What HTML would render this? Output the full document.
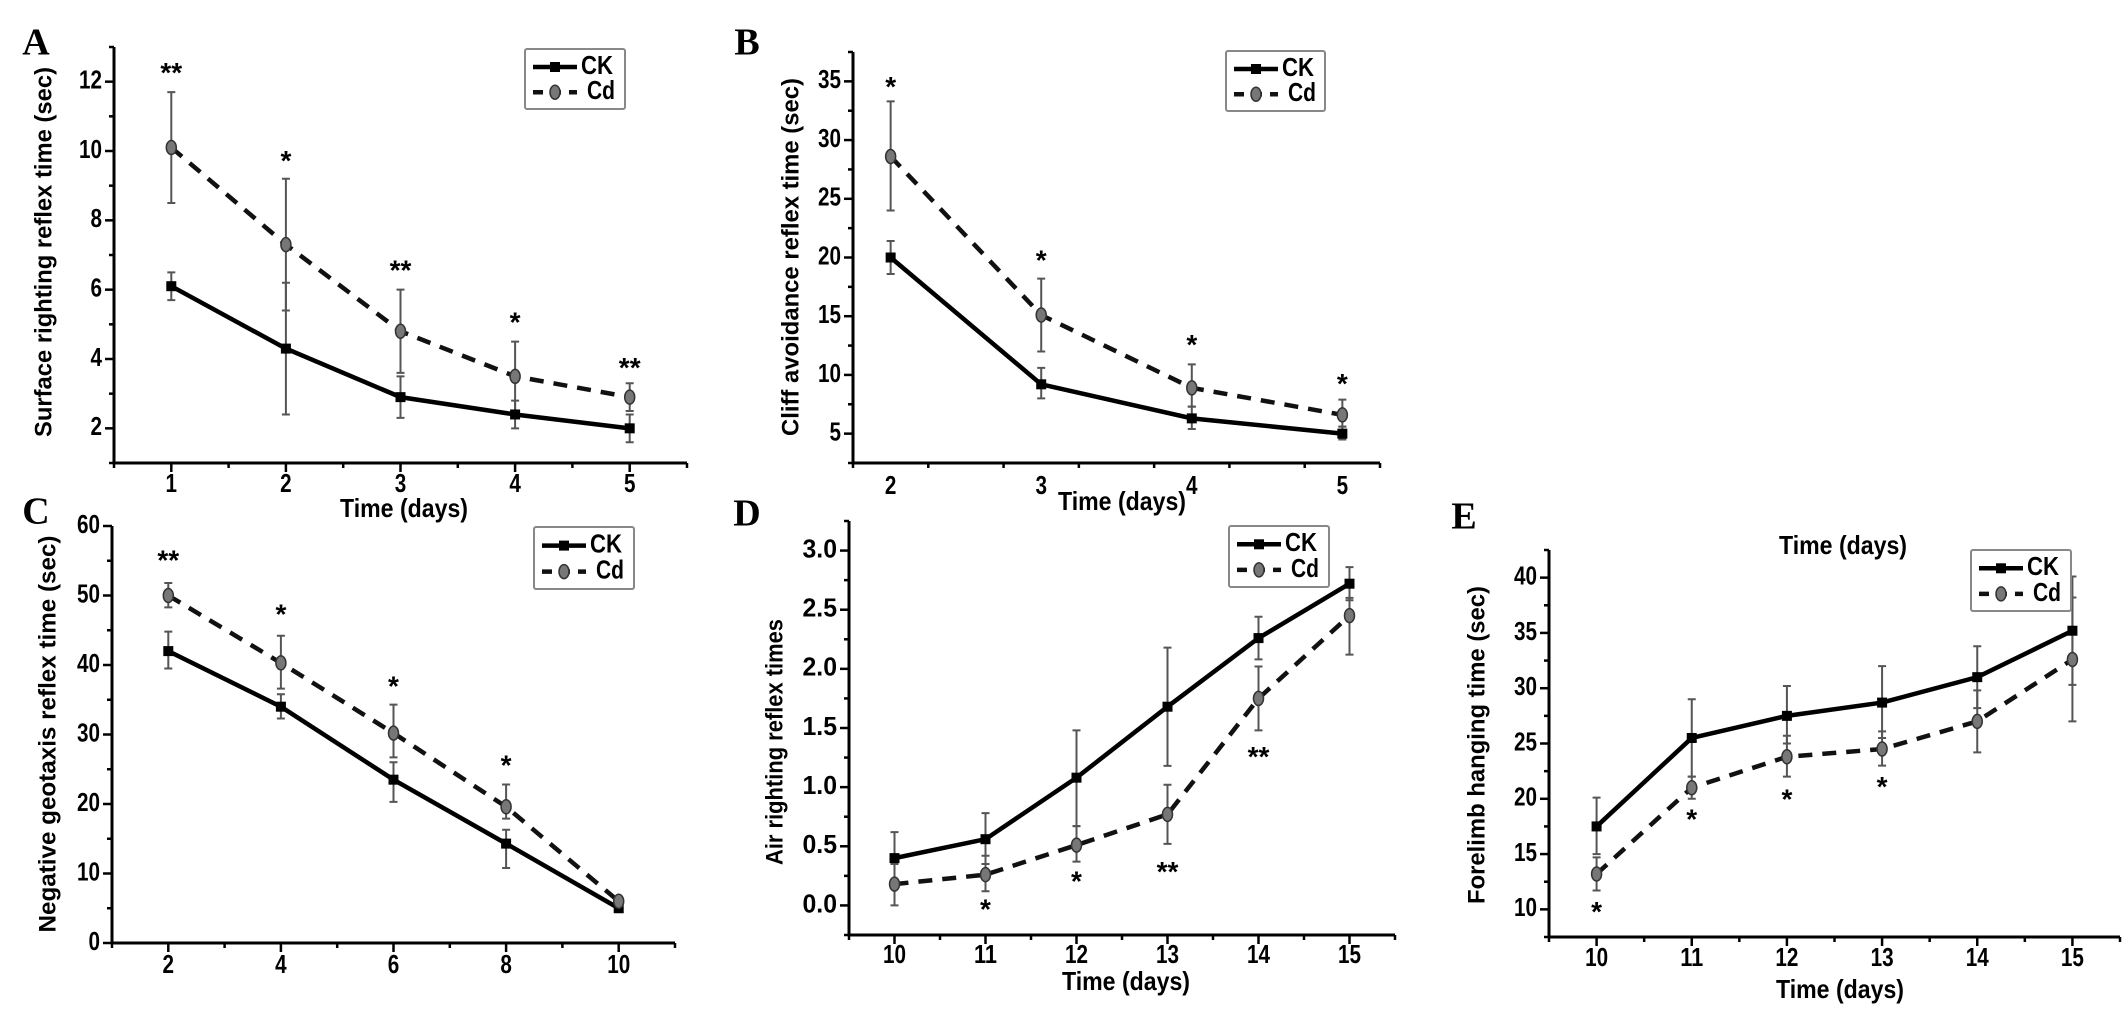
<!DOCTYPE html>
<html><head><meta charset="utf-8"><style>
html,body{margin:0;padding:0;background:#fff;}
svg{display:block;font-family:"Liberation Sans",Arial,sans-serif;}
</style></head><body>
<svg id="fig" width="2126" height="1023" viewBox="0 0 2126 1023" xmlns="http://www.w3.org/2000/svg"></svg>
<script>
// Panel A
const aDays=[1,2,3,4,5];
const aCK=[6.1,4.3,2.9,2.4,2.0];
const aCKlo=[5.7,2.4,2.3,2.0,1.6];
const aCKhi=[6.5,6.2,3.5,2.8,2.4];
const aCd=[10.1,7.3,4.8,3.5,2.9];
const aCdlo=[8.5,5.4,3.6,2.5,2.5];
const aCdhi=[11.7,9.2,6.0,4.5,3.3];
const aStar=["**","*","**","*","**"];
const aStarVal=[12.2,9.66,6.5,5.0,3.7];
const aYTicks=[2,4,6,8,10,12];
const aXTicks=[1,2,3,4,5];
// Panel B
const bDays=[2,3,4,5];
const bCK=[20,9.2,6.3,5.0];
const bCKlo=[18.6,8.0,5.4,4.5];
const bCKhi=[21.4,10.6,7.3,5.6];
const bCd=[28.6,15.1,8.9,6.6];
const bCdlo=[24,12,7.3,5.6];
const bCdhi=[33.3,18.2,10.9,7.9];
const bStar=["*","*","*","*"];
const bStarVal=[34.4,19.6,12.4,9.1];
const bYTicks=[5,10,15,20,25,30,35];
const bXTicks=[2,3,4,5];
// Panel C
const cDays=[2,4,6,8,10];
const cCK=[42,34,23.5,14.3,5];
const cCKlo=[39.5,32.3,20.3,10.8,4.5];
const cCKhi=[44.8,35.8,26,16.3,5.5];
const cCd=[50,40.3,30.2,19.6,6];
const cCdlo=[48.3,36.6,26.7,17.9,5.5];
const cCdhi=[51.8,44.2,34.3,22.8,6.5];
const cStar=["**","*","*","*"];
const cStarVal=[54.8,47,36.7,25.3];
const cYTicks=[0,10,20,30,40,50,60];
const cXTicks=[2,4,6,8,10];
// Panel D
const dDays=[10,11,12,13,14,15];
const dCK=[0.4,0.56,1.08,1.68,2.26,2.72];
const dCKlo=[0.2,0.35,0.67,1.18,2.08,2.58];
const dCKhi=[0.62,0.78,1.48,2.18,2.44,2.86];
const dCd=[0.18,0.26,0.51,0.77,1.75,2.45];
const dCdlo=[0.0,0.12,0.37,0.52,1.48,2.12];
const dCdhi=[0.35,0.42,0.67,1.02,2.02,2.6];
const dStar=["","*","*","**","**",""];
const dStarVal=[0,-0.05,0.19,0.27,1.24,0];
const dYTicks=[0.0,0.5,1.0,1.5,2.0,2.5,3.0];
const dXTicks=[10,11,12,13,14,15];
// Panel E
const eDays=[10,11,12,13,14,15];
const eCK=[17.5,25.5,27.5,28.7,31,35.2];
const eCKlo=[15,22,25,25.5,28.2,30.3];
const eCKhi=[20.1,29,30.2,32,33.8,40.1];
const eCd=[13.2,21,23.8,24.5,27,32.6];
const eCdlo=[11.7,20,22,23,24.2,27];
const eCdhi=[14.7,22,25.7,26.1,29.8,38.2];
const eStar=["*","*","*","*","",""];
const eStarVal=[9.6,18.0,19.8,20.9,0,0];
const eYTicks=[10,15,20,25,30,35,40];
const eXTicks=[10,11,12,13,14,15];

const NS="http://www.w3.org/2000/svg";
const svg=document.getElementById('fig');
function mk(tag,attrs,parent){const e=document.createElementNS(NS,tag);for(const k in attrs)e.setAttribute(k,attrs[k]);(parent||svg).appendChild(e);return e;}

function panel(p){
  const g=mk('g',{});
  
  
  const X=v=>p.x0+(v-p.xmin)/(p.xmax-p.xmin)*(p.x1-p.x0);
  const Y=v=>p.y1-(v-p.ymin)/(p.ymax-p.ymin)*(p.y1-p.y0);
  // panel letter
  const L=mk('text',{x:p.lx,y:p.ly,'font-family':'"Liberation Serif",serif','font-weight':'bold','font-size':38,'dominant-baseline':'middle','text-anchor':'middle'},g);
  L.textContent=p.id.toUpperCase();
  
  
  // axes
  const ax=mk('path',{d:`M${p.x0},${p.y0} L${p.x0},${p.y1} L${p.x1},${p.y1}`,fill:'none',stroke:'#000','stroke-width':3},g);
  
  
  // y ticks
  for(let v=p.ymin;v<=p.ymax+1e-9;v+=p.yminor){
    const major=p.yTicks.some(t=>Math.abs(t-v)<1e-6);
    mk('line',{x1:p.x0,x2:p.x0-(major?9:5),y1:Y(v),y2:Y(v),stroke:'#000','stroke-width':2.5},g);
  }
  p.yTicks.forEach(t=>{
    const s=p.fmt?t.toFixed(1):String(t);
    const tx=mk('text',{x:p.x0-12,y:Y(t),'font-weight':'bold','font-size':26,'text-anchor':'end','dominant-baseline':'middle',textLength:s.length*11.5,lengthAdjust:'spacingAndGlyphs'},g);
    tx.textContent=s;
    
    
  });
  for(let v=p.xmin;v<=p.xmax+1e-9;v+=p.xminor){
    const major=p.xTicks.some(t=>Math.abs(t-v)<1e-6);
    mk('line',{x1:X(v),x2:X(v),y1:p.y1,y2:p.y1+(major?9:5),stroke:'#000','stroke-width':2.5},g);
  }
  p.xTicks.forEach(t=>{
    const s=String(t);
    const tx=mk('text',{x:X(t),y:p.xly,'font-weight':'bold','font-size':26,'text-anchor':'middle','dominant-baseline':'middle',textLength:s.length*11.5,lengthAdjust:'spacingAndGlyphs'},g);
    tx.textContent=s;
    
    
  });
  // titles
  const yt=mk('text',{transform:`translate(${p.ytx},${p.yty}) rotate(-90)`,'font-weight':'bold','font-size':24,'text-anchor':'middle','dominant-baseline':'middle',textLength:p.ytl,lengthAdjust:'spacingAndGlyphs'},g);
  yt.textContent=p.ytitle;
  
  
  (p.xt||[]).forEach(pos=>{
    const t=mk('text',{x:pos[0],y:pos[1],'font-weight':'bold','font-size':26,'text-anchor':'middle','dominant-baseline':'middle',textLength:128,lengthAdjust:'spacingAndGlyphs'},g);
    t.textContent='Time (days)';
    
    
  });
  // error bars
  function err(vals,lo,hi,name){
    p.days.forEach((d,i)=>{
      const e=mk('path',{d:`M${X(d)},${Y(lo[i])} L${X(d)},${Y(hi[i])} M${X(d)-4},${Y(lo[i])} L${X(d)+4},${Y(lo[i])} M${X(d)-4},${Y(hi[i])} L${X(d)+4},${Y(hi[i])}`,stroke:'#555','stroke-width':2,fill:'none'},g);
      
      
    });
  }
  err(p.ck,p.cklo,p.ckhi,'ck');
  err(p.cd,p.cdlo,p.cdhi,'cd');
  const ckl=mk('polyline',{points:p.days.map((d,i)=>X(d)+','+Y(p.ck[i])).join(' '),fill:'none',stroke:'#000','stroke-width':4.5},g);
  
  
  const cdl=mk('polyline',{points:p.days.map((d,i)=>X(d)+','+Y(p.cd[i])).join(' '),fill:'none',stroke:'#111','stroke-width':4.5,'stroke-dasharray':'14 10'},g);
  
  
  p.days.forEach((d,i)=>{
    const m=mk('rect',{x:X(d)-5,y:Y(p.ck[i])-5,width:10,height:10,fill:'#000'},g);
    
    
    const c=mk('ellipse',{cx:X(d),cy:Y(p.cd[i]),rx:5,ry:7,fill:'#777',stroke:'#333','stroke-width':1.5},g);
    
    
    if(p.star[i]){
      const s=mk('text',{x:X(d),y:Y(p.starVal[i]),'font-weight':'bold','font-size':28,'text-anchor':'middle','dominant-baseline':'middle'},g);
      s.textContent=p.star[i];
      
      
    }
  });
  // legend
  const [bx,by,bw,bh]=p.leg;
  const lg=mk('g',{},g);
  
  
  mk('rect',{x:bx,y:by,width:bw,height:bh,fill:'#fff',stroke:'#888','stroke-width':2,rx:2},lg);
  const r1=by+bh*0.3,r2=by+bh*0.72;
  mk('line',{x1:bx+8,x2:bx+52,y1:r1,y2:r1,stroke:'#000','stroke-width':4.5},lg);
  mk('rect',{x:bx+25,y:r1-5,width:10,height:10,fill:'#000'},lg);
  mk('line',{x1:bx+8,x2:bx+52,y1:r2,y2:r2,stroke:'#111','stroke-width':4.5,'stroke-dasharray':'10 8'},lg);
  mk('ellipse',{cx:bx+30,cy:r2,rx:5,ry:7,fill:'#777',stroke:'#333','stroke-width':1.5},lg);
  const t1=mk('text',{x:bx+56,y:r1,'font-weight':'bold','font-size':26,'dominant-baseline':'middle',textLength:32,lengthAdjust:'spacingAndGlyphs'},lg);
  t1.textContent='CK';
  
  
  const t2=mk('text',{x:bx+62,y:r2,'font-weight':'bold','font-size':26,'dominant-baseline':'middle',textLength:28,lengthAdjust:'spacingAndGlyphs'},lg);
  t2.textContent='Cd';
  
  
}

panel({id:'a',x0:114,x1:687,y0:47,y1:463,xmin:0.5,xmax:5.5,ymin:1,ymax:13,xminor:0.5,yminor:1,yTicks:aYTicks,xTicks:aXTicks,xly:485,
 lx:36,ly:46,ytx:45,yty:252,ytl:370,ytitle:'Surface righting reflex time (sec)',xt:[[404,510]],
 days:aDays,ck:aCK,cklo:aCKlo,ckhi:aCKhi,cd:aCd,cdlo:aCdlo,cdhi:aCdhi,star:aStar,starVal:aStarVal,leg:[525,49,100,60]});
panel({id:'b',x0:853,x1:1380,y0:52,y1:463,xmin:1.75,xmax:5.25,ymin:2.5,ymax:37.5,xminor:0.5,yminor:2.5,yTicks:bYTicks,xTicks:bXTicks,xly:487,
 lx:747,ly:46,ytx:792,yty:257,ytl:358,ytitle:'Cliff avoidance reflex time (sec)',xt:[[1122,503]],
 days:bDays,ck:bCK,cklo:bCKlo,ckhi:bCKhi,cd:bCd,cdlo:bCdlo,cdhi:bCdhi,star:bStar,starVal:bStarVal,leg:[1226,51,99,60]});
panel({id:'c',x0:112,x1:675,y0:526,y1:943,xmin:1,xmax:11,ymin:0,ymax:60,xminor:1,yminor:5,yTicks:cYTicks,xTicks:cXTicks,xly:966,
 lx:36,ly:515,ytx:49,yty:734,ytl:397,ytitle:'Negative geotaxis reflex time (sec)',xt:[],
 days:cDays,ck:cCK,cklo:cCKlo,ckhi:cCKhi,cd:cCd,cdlo:cCdlo,cdhi:cCdhi,star:cStar,starVal:cStarVal,leg:[534,527,100,62]});
panel({id:'d',x0:849,x1:1395,y0:521,y1:935,xmin:9.5,xmax:15.5,ymin:-0.25,ymax:3.25,xminor:0.5,yminor:0.25,yTicks:dYTicks,xTicks:dXTicks,xly:956,fmt:true,
 lx:747,ly:517,ytx:776,yty:742,ytl:246,ytitle:'Air righting reflex times',xt:[[1126,983]],
 days:dDays,ck:dCK,cklo:dCKlo,ckhi:dCKhi,cd:dCd,cdlo:dCdlo,cdhi:dCdhi,star:dStar,starVal:dStarVal,leg:[1229,526,100,61]});
panel({id:'e',x0:1549,x1:2120,y0:550,y1:937,xmin:9.5,xmax:15.5,ymin:7.5,ymax:42.5,xminor:0.5,yminor:2.5,yTicks:eYTicks,xTicks:eXTicks,xly:959,
 lx:1464,ly:520,ytx:1478,yty:745,ytl:318,ytitle:'Forelimb hanging time (sec)',xt:[[1843,547],[1840,991]],
 days:eDays,ck:eCK,cklo:eCKlo,ckhi:eCKhi,cd:eCd,cdlo:eCdlo,cdhi:eCdhi,star:eStar,starVal:eStarVal,leg:[1971,550,100,61]});
</script>
</body></html>
